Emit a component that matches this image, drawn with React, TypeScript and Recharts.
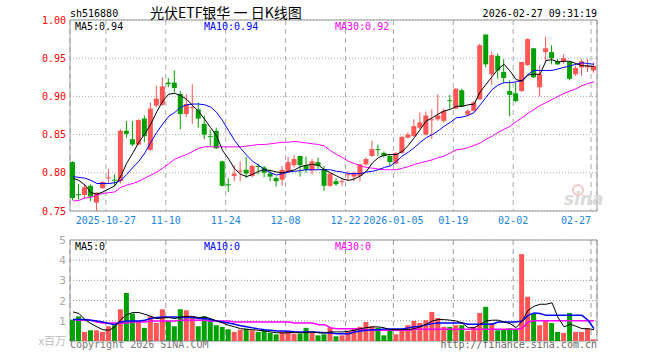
import React from "react";
import { Bar, CartesianGrid, Cell, ComposedChart, Line, ReferenceArea, XAxis, YAxis } from "recharts";

// trading-day index of each dashed grid line and its label
const tickIdx = [6, 16, 26, 36, 46, 54, 64, 74, 87];
const tickLabels = ["2025-10-27", "11-10", "11-24", "12-08", "12-22", "2026-01-05", "01-19", "02-02", "02-27"];
const volTicks = [1, 2, 3, 4, 5];

const opens = [
  0.814, 0.772, 0.771, 0.783, 0.761, 0.78, 0.793, 0.791, 0.789, 0.855, 0.844, 0.837, 0.871, 0.83, 0.888, 0.889,
  0.918, 0.918, 0.903, 0.877, 0.885, 0.883, 0.864, 0.848, 0.855, 0.815, 0.785, 0.796, 0.802, 0.804, 0.796, 0.809,
  0.807, 0.799, 0.793, 0.791, 0.802, 0.81, 0.822, 0.81, 0.803, 0.814, 0.805, 0.783, 0.789, 0.788, 0.797, 0.795,
  0.796, 0.811, 0.822, 0.831, 0.826, 0.822, 0.812, 0.826, 0.846, 0.848, 0.859, 0.85, 0.869, 0.87, 0.868, 0.895,
  0.884, 0.908, 0.876, 0.881, 0.896, 0.981, 0.929, 0.953, 0.932, 0.907, 0.904, 0.907, 0.941, 0.963, 0.912, 0.958,
  0.958, 0.946, 0.946, 0.945, 0.929, 0.938, 0.938, 0.934
];
const highs = [
  0.815, 0.785, 0.785, 0.785, 0.774, 0.789, 0.805, 0.798, 0.857, 0.868, 0.868, 0.87, 0.875, 0.892, 0.914, 0.925,
  0.924, 0.934, 0.907, 0.903, 0.916, 0.892, 0.875, 0.856, 0.859, 0.816, 0.793, 0.81, 0.815, 0.821, 0.811, 0.812,
  0.809, 0.804, 0.795, 0.809, 0.821, 0.823, 0.822, 0.821, 0.818, 0.82, 0.809, 0.799, 0.793, 0.793, 0.802, 0.802,
  0.812, 0.82, 0.842, 0.837, 0.828, 0.824, 0.827, 0.848, 0.853, 0.87, 0.879, 0.88, 0.883, 0.903, 0.884, 0.902,
  0.911, 0.91, 0.883, 0.894, 0.969, 0.981, 0.959, 0.956, 0.949, 0.921, 0.918, 0.945, 0.976, 0.963, 0.94, 0.978,
  0.967, 0.949, 0.955, 0.945, 0.94, 0.949, 0.949, 0.944
];
const lows = [
  0.764, 0.765, 0.767, 0.763, 0.75, 0.779, 0.787, 0.783, 0.786, 0.846, 0.835, 0.836, 0.84, 0.829, 0.886, 0.888,
  0.912, 0.905, 0.857, 0.873, 0.864, 0.859, 0.844, 0.835, 0.831, 0.782, 0.775, 0.789, 0.789, 0.793, 0.794, 0.798,
  0.794, 0.789, 0.782, 0.783, 0.8, 0.807, 0.795, 0.8, 0.798, 0.805, 0.776, 0.781, 0.783, 0.783, 0.79, 0.789,
  0.789, 0.809, 0.821, 0.822, 0.82, 0.809, 0.811, 0.825, 0.845, 0.847, 0.857, 0.849, 0.844, 0.868, 0.866, 0.884,
  0.883, 0.886, 0.875, 0.88, 0.896, 0.938, 0.915, 0.923, 0.918, 0.874, 0.892, 0.906, 0.94, 0.924, 0.9, 0.946,
  0.942, 0.941, 0.943, 0.921, 0.927, 0.927, 0.932, 0.931
];
const closes = [
  0.767, 0.771, 0.781, 0.769, 0.774, 0.788, 0.794, 0.79, 0.855, 0.851, 0.837, 0.869, 0.848, 0.884, 0.897, 0.913,
  0.916, 0.911, 0.877, 0.89, 0.886, 0.871, 0.85, 0.847, 0.832, 0.783, 0.784, 0.799, 0.803, 0.799, 0.809, 0.808,
  0.8, 0.795, 0.789, 0.804, 0.814, 0.818, 0.81, 0.804, 0.815, 0.809, 0.783, 0.799, 0.785, 0.789, 0.798, 0.799,
  0.811, 0.818, 0.831, 0.83, 0.822, 0.814, 0.826, 0.847, 0.85, 0.861, 0.866, 0.875, 0.87, 0.875, 0.881, 0.894,
  0.91, 0.887, 0.881, 0.892, 0.967, 0.942, 0.954, 0.934, 0.924, 0.902, 0.894, 0.945, 0.975, 0.925, 0.929, 0.963,
  0.95, 0.942, 0.95, 0.923, 0.937, 0.946, 0.94, 0.94
];
const ma5 = [
  0.793, 0.79, 0.784, 0.774, 0.772, 0.775, 0.779, 0.783, 0.796, 0.813, 0.826, 0.84, 0.851, 0.864, 0.88, 0.894,
  0.903, 0.904, 0.901, 0.896, 0.888, 0.88, 0.87, 0.859, 0.848, 0.829, 0.818, 0.805, 0.798, 0.795, 0.798, 0.802,
  0.804, 0.803, 0.801, 0.8, 0.802, 0.804, 0.808, 0.81, 0.811, 0.81, 0.804, 0.8, 0.796, 0.792, 0.79, 0.792,
  0.796, 0.802, 0.813, 0.82, 0.823, 0.824, 0.824, 0.828, 0.836, 0.846, 0.857, 0.868, 0.872, 0.877, 0.881, 0.883,
  0.887, 0.887, 0.889, 0.89, 0.906, 0.916, 0.926, 0.936, 0.942, 0.933, 0.922, 0.92, 0.928, 0.929, 0.929, 0.947,
  0.948, 0.945, 0.946, 0.946, 0.943, 0.94, 0.94, 0.939
];
const ma10 = [
  0.795, 0.794, 0.793, 0.79, 0.786, 0.786, 0.786, 0.787, 0.79, 0.798, 0.807, 0.815, 0.826, 0.84, 0.853, 0.864,
  0.874, 0.879, 0.886, 0.889, 0.89, 0.89, 0.889, 0.886, 0.879, 0.868, 0.855, 0.842, 0.832, 0.823, 0.815, 0.81,
  0.804, 0.8, 0.797, 0.799, 0.801, 0.802, 0.803, 0.804, 0.804, 0.804, 0.804, 0.804, 0.802, 0.801, 0.799, 0.799,
  0.799, 0.801, 0.802, 0.804, 0.807, 0.809, 0.815, 0.822, 0.827, 0.833, 0.84, 0.846, 0.85, 0.855, 0.861, 0.866,
  0.872, 0.873, 0.875, 0.879, 0.889, 0.899, 0.909, 0.915, 0.918, 0.918, 0.919, 0.921, 0.929, 0.934, 0.934, 0.934,
  0.934, 0.936, 0.938, 0.94, 0.942, 0.944, 0.943, 0.942
];
const ma30 = [
  0.763, 0.764, 0.767, 0.768, 0.771, 0.773, 0.774, 0.775, 0.781, 0.784, 0.786, 0.789, 0.793, 0.797, 0.801, 0.806,
  0.812, 0.818, 0.821, 0.824, 0.828, 0.832, 0.834, 0.834, 0.834, 0.834, 0.834, 0.834, 0.834, 0.835, 0.836, 0.837,
  0.837, 0.838, 0.839, 0.84, 0.84, 0.841, 0.84, 0.839, 0.838, 0.837, 0.835, 0.829, 0.824, 0.82, 0.815, 0.812,
  0.809, 0.807, 0.806, 0.805, 0.804, 0.804, 0.804, 0.806, 0.808, 0.811, 0.813, 0.815, 0.817, 0.82, 0.822, 0.826,
  0.83, 0.831, 0.833, 0.836, 0.839, 0.844, 0.848, 0.853, 0.857, 0.861, 0.867, 0.872, 0.878, 0.883, 0.888, 0.892,
  0.896, 0.9, 0.904, 0.907, 0.91, 0.914, 0.917, 0.919
];
// volume, millions of shares
const volumes = [
  1.06, 1.22, 0.45, 0.53, 0.53, 0.45, 0.73, 0.78, 1.57, 2.38, 1.36, 0.94, 0.65, 1.22, 0.89, 1.57,
  0.99, 0.73, 1.57, 1.52, 1.16, 0.73, 1.22, 1.03, 0.78, 0.7, 0.58, 0.45, 0.56, 0.61, 0.53, 0.45,
  0.53, 0.41, 0.33, 0.45, 0.45, 0.36, 0.36, 0.65, 0.4, 0.28, 0.33, 0.65, 0.23, 0.28, 0.5, 0.61,
  0.7, 0.94, 0.73, 0.66, 0.28, 0.53, 0.33, 0.56, 0.78, 0.99, 0.89, 1.03, 1.44, 1.14, 0.7, 0.7,
  0.78, 0.78, 0.5, 0.7, 1.39, 1.69, 0.89, 0.53, 0.58, 0.63, 0.6, 4.3, 2.19, 1.36, 0.78, 0.99,
  0.89, 0.45, 0.4, 1.39, 0.45, 0.45, 0.61, 0.08
];
const vma5 = [
  1.44, 1.36, 1.06, 0.86, 0.7, 0.56, 0.53, 0.7, 1.06, 1.31, 1.41, 1.41, 1.32, 1.22, 1.11, 1.14,
  1.16, 1.11, 1.19, 1.22, 1.22, 1.16, 1.19, 1.11, 0.99, 0.89, 0.78, 0.7, 0.61, 0.58, 0.56, 0.53,
  0.5, 0.45, 0.41, 0.4, 0.41, 0.43, 0.4, 0.43, 0.45, 0.4, 0.4, 0.45, 0.45, 0.45, 0.48, 0.53,
  0.61, 0.66, 0.7, 0.7, 0.65, 0.56, 0.56, 0.56, 0.56, 0.61, 0.7, 0.83, 0.99, 1.06, 1.06, 1.03,
  0.99, 0.89, 0.66, 0.65, 0.83, 0.99, 1.03, 1.03, 0.94, 0.86, 0.66, 0.99, 1.52, 1.72, 1.82, 1.82,
  1.89, 1.16, 0.7, 0.83, 0.73, 0.61, 0.61, 0.56
];
const vma10 = [
  1.06, 1.06, 1.06, 1.03, 0.99, 0.94, 0.86, 0.81, 0.94, 0.99, 0.99, 0.99, 1.03, 1.11, 1.16, 1.19,
  1.19, 1.19, 1.16, 1.16, 1.16, 1.11, 1.11, 1.06, 0.99, 0.94, 0.89, 0.83, 0.76, 0.7, 0.65, 0.6,
  0.56, 0.53, 0.5, 0.5, 0.48, 0.46, 0.45, 0.45, 0.45, 0.43, 0.41, 0.4, 0.36, 0.36, 0.36, 0.45,
  0.5, 0.53, 0.56, 0.56, 0.6, 0.6, 0.6, 0.6, 0.65, 0.7, 0.73, 0.81, 0.86, 0.89, 0.89, 0.89,
  0.89, 0.89, 0.83, 0.83, 0.83, 0.83, 0.83, 0.94, 0.94, 0.94, 0.94, 0.99, 1.27, 1.39, 1.36, 1.27,
  1.27, 1.27, 1.27, 1.27, 1.27, 1.27, 1.03, 0.61
];
const vma30 = [
  1.06, 1.03, 1.03, 1.03, 0.94, 0.89, 0.89, 0.89, 0.89, 0.89, 0.94, 0.94, 0.94, 0.99, 0.99, 0.99,
  0.99, 0.99, 1.03, 1.03, 1.03, 1.03, 1.03, 0.99, 0.99, 0.99, 0.99, 0.94, 0.94, 0.94, 0.94, 0.94,
  0.94, 0.94, 0.94, 0.94, 0.94, 0.89, 0.89, 0.89, 0.89, 0.81, 0.81, 0.66, 0.61, 0.61, 0.61, 0.61,
  0.61, 0.53, 0.53, 0.53, 0.53, 0.53, 0.53, 0.53, 0.53, 0.58, 0.58, 0.58, 0.58, 0.58, 0.58, 0.58,
  0.58, 0.58, 0.58, 0.58, 0.58, 0.58, 0.58, 0.58, 0.58, 0.58, 0.58, 0.63, 0.95, 1.0, 1.0, 1.0,
  1.0, 1.0, 1.0, 1.0, 1.0, 1.0, 1.0, 1.0
];

const UP = "#ff5555";
const DOWN = "#00a000";
const GRID = "#aaa";
const MONO = '"DejaVu Sans Mono", "Liberation Mono", monospace';

const rows = opens.map((o, i) => ({
  x: i + 0.5,
  open: o,
  high: highs[i],
  low: lows[i],
  close: closes[i],
  ma5: ma5[i],
  ma10: ma10[i],
  ma30: ma30[i],
  vol: volumes[i],
  vma5: vma5[i],
  vma10: vma10[i],
  vma30: vma30[i],
  up: closes[i] >= o
}));

function Candle(props: any) {
  const { x, y, width, height, payload } = props;
  if (x == null || y == null || !payload) return null;
  const { open, close, high, low, up } = payload;
  const color = up ? UP : DOWN;
  const k = high > low ? height / (high - low) : 0;
  const yo = y + (high - open) * k;
  const yc = y + (high - close) * k;
  const cx = x + width / 2;
  const top = Math.min(yo, yc);
  const h = Math.max(1, Math.abs(yo - yc));
  return (
    <g>
      <line x1={cx} x2={cx} y1={y} y2={y + height} stroke={color} strokeWidth={1} />
      <rect x={x} y={top} width={width} height={h} fill={color} />
    </g>
  );
}

function DateTick(props: any) {
  const { x, y, payload } = props;
  const i = tickIdx.indexOf(payload.value);
  const last = i === tickIdx.length - 1;
  return (
    <text x={x} y={y} dy="0.71em" textAnchor={last ? "end" : "middle"} fill="#1b85e0" fontSize={10} fontFamily={MONO}>
      {tickLabels[i]}
    </text>
  );
}

// the volume panel keeps the date ticks for its grid but prints no labels
function NoTick() {
  return <g />;
}

export default function App() {
  return (
    <div style={{ position: "absolute", left: 0, top: 0, width: 660, height: 360, background: "#fff", overflow: "hidden" }}>
      <div style={{ position: "absolute", left: 0, top: 0 }}>
        <ComposedChart id="price" width={660} height={230} data={rows} margin={{ top: 20, right: 63, bottom: 1, left: 10 }}>
          <CartesianGrid vertical={false} stroke={GRID} strokeDasharray="1 2" />
          <CartesianGrid horizontal={false} stroke={GRID} strokeDasharray="5 4" />
          <XAxis
            type="number"
            dataKey="x"
            domain={[0, 88]}
            ticks={tickIdx}
            interval={0}
            allowDataOverflow
            height={18}
            tickSize={0}
            tickMargin={6}
            axisLine={false}
            tickLine={false}
            tick={<DateTick />}
          />
          <YAxis
            type="number"
            domain={[0.75, 1]}
            ticks={[0.75, 0.8, 0.85, 0.9, 0.95, 1]}
            interval={0}
            allowDataOverflow
            width={60}
            tickSize={0}
            tickMargin={4}
            axisLine={false}
            tickLine={false}
            tickFormatter={(v: number) => v.toFixed(2)}
            tick={{ fill: "#f00", fontSize: 10, fontFamily: MONO }}
          />
          <ReferenceArea x1={0} x2={88} y1={0.75} y2={1} fill="none" stroke="#999" />
          <Bar dataKey={(d: any) => [d.low, d.high]} barSize={5} shape={<Candle />} isAnimationActive={false} />
          <Line dataKey="ma30" type="linear" stroke="#ff00ff" strokeWidth={1} dot={false} activeDot={false} isAnimationActive={false} />
          <Line dataKey="ma10" type="linear" stroke="#0000ff" strokeWidth={1} dot={false} activeDot={false} isAnimationActive={false} />
          <Line dataKey="ma5" type="linear" stroke="#000" strokeWidth={1} dot={false} activeDot={false} isAnimationActive={false} />
        </ComposedChart>
      </div>
      <div style={{ position: "absolute", left: 0, top: 230 }}>
        <ComposedChart id="volume" width={660} height={130} data={rows} margin={{ top: 10, right: 63, bottom: 1, left: 10 }}>
          <CartesianGrid vertical={false} stroke="#999" strokeDasharray="1 2" />
          <CartesianGrid horizontal={false} stroke="#999" strokeDasharray="5 4" />
          <XAxis
            type="number"
            dataKey="x"
            domain={[0, 88]}
            ticks={tickIdx}
            interval={0}
            allowDataOverflow
            height={18}
            tickSize={0}
            axisLine={false}
            tickLine={false}
            tick={<NoTick />}
          />
          <YAxis
            type="number"
            domain={[0, 5]}
            ticks={volTicks}
            interval={0}
            allowDataOverflow
            width={60}
            tickSize={0}
            tickMargin={4}
            axisLine={false}
            tickLine={false}
            tick={{ fill: "#aaa", fontSize: 11, fontFamily: '"DejaVu Sans", sans-serif' }}
          />
          <ReferenceArea x1={0} x2={88} y1={0} y2={5} fill="none" stroke="#999" />
          <Bar dataKey="vol" barSize={5} isAnimationActive={false}>
            {rows.map((r, i) => (
              <Cell key={i} fill={r.up ? UP : DOWN} />
            ))}
          </Bar>
          <Line dataKey="vma30" type="linear" stroke="#ff00ff" strokeWidth={1.5} dot={false} activeDot={false} isAnimationActive={false} />
          <Line dataKey="vma10" type="linear" stroke="#0000ff" strokeWidth={1.5} dot={false} activeDot={false} isAnimationActive={false} />
          <Line dataKey="vma5" type="linear" stroke="#000" strokeWidth={1} dot={false} activeDot={false} isAnimationActive={false} />
        </ComposedChart>
      </div>
      <svg width={660} height={360} style={{ position: "absolute", left: 0, top: 0, pointerEvents: "none" }}>
        <g fontFamily={MONO} fontSize={10}>
          <text x={70} y={16.5} fill="#000">sh516880</text>
          <text x={597} y={16.5} fill="#000" textAnchor="end">2026-02-27 09:31:19</text>
          <text x={75} y={29.5} fill="#000">MA5:0.94</text>
          <text x={204} y={29.5} fill="#0000ff">MA10:0.94</text>
          <text x={335} y={29.5} fill="#ff00ff">MA30:0.92</text>
          <text x={75} y={249.5} fill="#000">MA5:0</text>
          <text x={204} y={249.5} fill="#0000ff">MA10:0</text>
          <text x={335} y={249.5} fill="#ff00ff">MA30:0</text>
          <text x={70} y={348} fill="#777">Copyright 2026 SINA.COM</text>
          <text x={597} y={348} fill="#666" textAnchor="end">http://finance.sina.com.cn</text>
        </g>
        <text x={150} y={17.5} fontFamily='"Noto Sans CJK SC", sans-serif' fontSize={14} fill="#000">
          光伏ETF银华 一 日K线图
        </text>
        <text x={66} y={345} textAnchor="end" fontFamily='"Noto Sans CJK SC", sans-serif' fontSize={11} fill="#bbb">
          x百万
        </text>
        <text x={564} y={205} fontFamily='"DejaVu Sans", sans-serif' fontSize={17} fontStyle="italic" fontWeight="bold" fill="#d9d9d9">
          sina
        </text>
        <circle cx={578} cy={190} r={5} fill="none" stroke="#f0c8c8" strokeWidth={2} />
      </svg>
    </div>
  );
}
